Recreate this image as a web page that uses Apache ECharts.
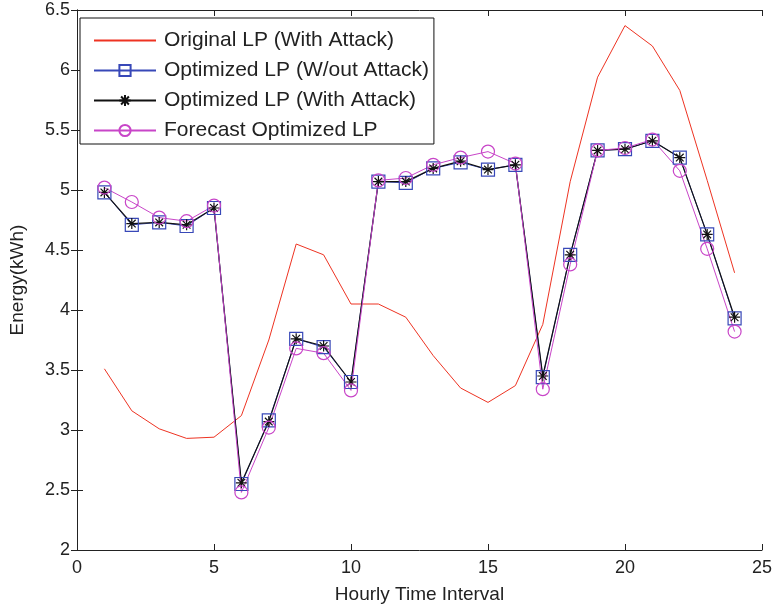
<!DOCTYPE html>
<html>
<head>
<meta charset="utf-8">
<script src="https://cdn.jsdelivr.net/npm/echarts@6/dist/echarts.min.js"></script>
<style>html,body{margin:0;padding:0;background:#fff}#c{width:775px;height:612px}</style>
</head>
<body>
<div id="c"></div>
<script>
const hours = [1,2,3,4,5,6,7,8,9,10,11,12,13,14,15,16,17,18,19,20,21,22,23,24];
const originalWithAttack = [3.51,3.16,3.01,2.93,2.94,3.12,3.75,4.55,4.46,4.05,4.05,3.94,3.62,3.35,3.23,3.37,3.88,5.07,5.94,6.37,6.20,5.83,5.08,4.31];
const optimizedNoAttack = [4.98,4.71,4.73,4.70,4.85,2.55,3.08,3.76,3.69,3.40,5.07,5.06,5.18,5.23,5.17,5.21,3.44,4.46,5.33,5.34,5.41,5.27,4.63,3.93];
const optimizedWithAttack = [4.98,4.72,4.73,4.71,4.85,2.56,3.07,3.76,3.70,3.40,5.07,5.07,5.18,5.24,5.17,5.21,3.45,4.46,5.33,5.34,5.41,5.27,4.63,3.94];
const forecastOptimized = [5.02,4.90,4.77,4.74,4.87,2.48,3.02,3.68,3.64,3.33,5.08,5.10,5.21,5.27,5.32,5.22,3.34,4.38,5.33,5.35,5.42,5.16,4.51,3.82];
const seriesNames = ['Original LP (With Attack)','Optimized LP (W/out Attack)','Optimized LP (With Attack)','Forecast Optimized LP'];

const pair = (arr) => hours.map((h, i) => [h, arr[i]]);
const font = 'Liberation Sans, Arial, Helvetica, sans-serif';
const axisCommon = {
  axisLine: {show: true, lineStyle: {color: '#222', width: 1}},
  axisTick: {show: true, inside: true, length: 6, lineStyle: {color: '#222'}},
  splitLine: {show: false}
};
const star = 'path://M0,10L20,10M10,0L10,20M3,3L17,17M17,3L3,17';

const chart = echarts.init(document.getElementById('c'), null, {renderer: 'canvas'});
chart.setOption({
  animation: false,
  backgroundColor: '#fff',
  textStyle: {fontFamily: font},
  grid: {left: 76, right: 13, top: 10, bottom: 62, containLabel: false},
  legend: {
    orient: 'vertical', left: 80, top: 18,
    padding: [12, 5, 3, 13],
    itemWidth: 62, itemHeight: 14, itemGap: 9, itemTextGap: 5,
    backgroundColor: '#fff', borderColor: '#111', borderWidth: 1,
    textStyle: {fontSize: 21, color: '#222', fontFamily: font, padding: [0,0,0,3]},
    data: [
      {name: seriesNames[0], itemStyle: {opacity: 0}},
      seriesNames[1], seriesNames[2], seriesNames[3]
    ]
  },
  xAxis: [
    Object.assign({type: 'value', min: 0, max: 25, interval: 5, position: 'bottom',
      axisLabel: {fontSize: 18, color: '#222', margin: 9, fontFamily: font},
      name: 'Hourly Time Interval', nameLocation: 'middle', nameGap: 35,
      nameTextStyle: {fontSize: 19, color: '#222', fontFamily: font}}, axisCommon),
    Object.assign({type: 'value', min: 0, max: 25, interval: 5, position: 'top',
      axisLabel: {show: false}}, axisCommon)
  ],
  yAxis: [
    Object.assign({type: 'value', min: 2, max: 6.5, interval: 0.5, position: 'left',
      axisLabel: {fontSize: 18, color: '#222', margin: 7, fontFamily: font},
      name: 'Energy(kWh)', nameLocation: 'middle', nameGap: 50,
      nameTextStyle: {fontSize: 19, color: '#222', fontFamily: font}}, axisCommon),
    Object.assign({type: 'value', min: 2, max: 6.5, interval: 0.5, position: 'right',
      axisLabel: {show: false}}, axisCommon)
  ],
  series: [
    {name: seriesNames[0], type: 'line', data: pair(originalWithAttack),
     showSymbol: false, symbol: 'none',
     lineStyle: {color: '#ee3322', width: 1}, itemStyle: {color: '#ee3322'}},
    {name: seriesNames[1], type: 'line', data: pair(optimizedNoAttack),
     symbol: 'rect', symbolSize: 13,
     lineStyle: {color: '#3848b8', width: 1},
     itemStyle: {color: 'rgba(0,0,0,0)', borderColor: '#3848b8', borderWidth: 1.2}},
    {name: seriesNames[2], type: 'line', data: pair(optimizedWithAttack),
     symbol: star, symbolSize: 11,
     lineStyle: {color: '#111', width: 1.2},
     itemStyle: {color: 'rgba(0,0,0,0)', borderColor: '#111', borderWidth: 1.2}},
    {name: seriesNames[3], type: 'line', data: pair(forecastOptimized),
     symbol: 'circle', symbolSize: 13,
     lineStyle: {color: '#c845c8', width: 1},
     itemStyle: {color: 'rgba(0,0,0,0)', borderColor: '#c845c8', borderWidth: 1.2}}
  ]
});
</script>
</body>
</html>
